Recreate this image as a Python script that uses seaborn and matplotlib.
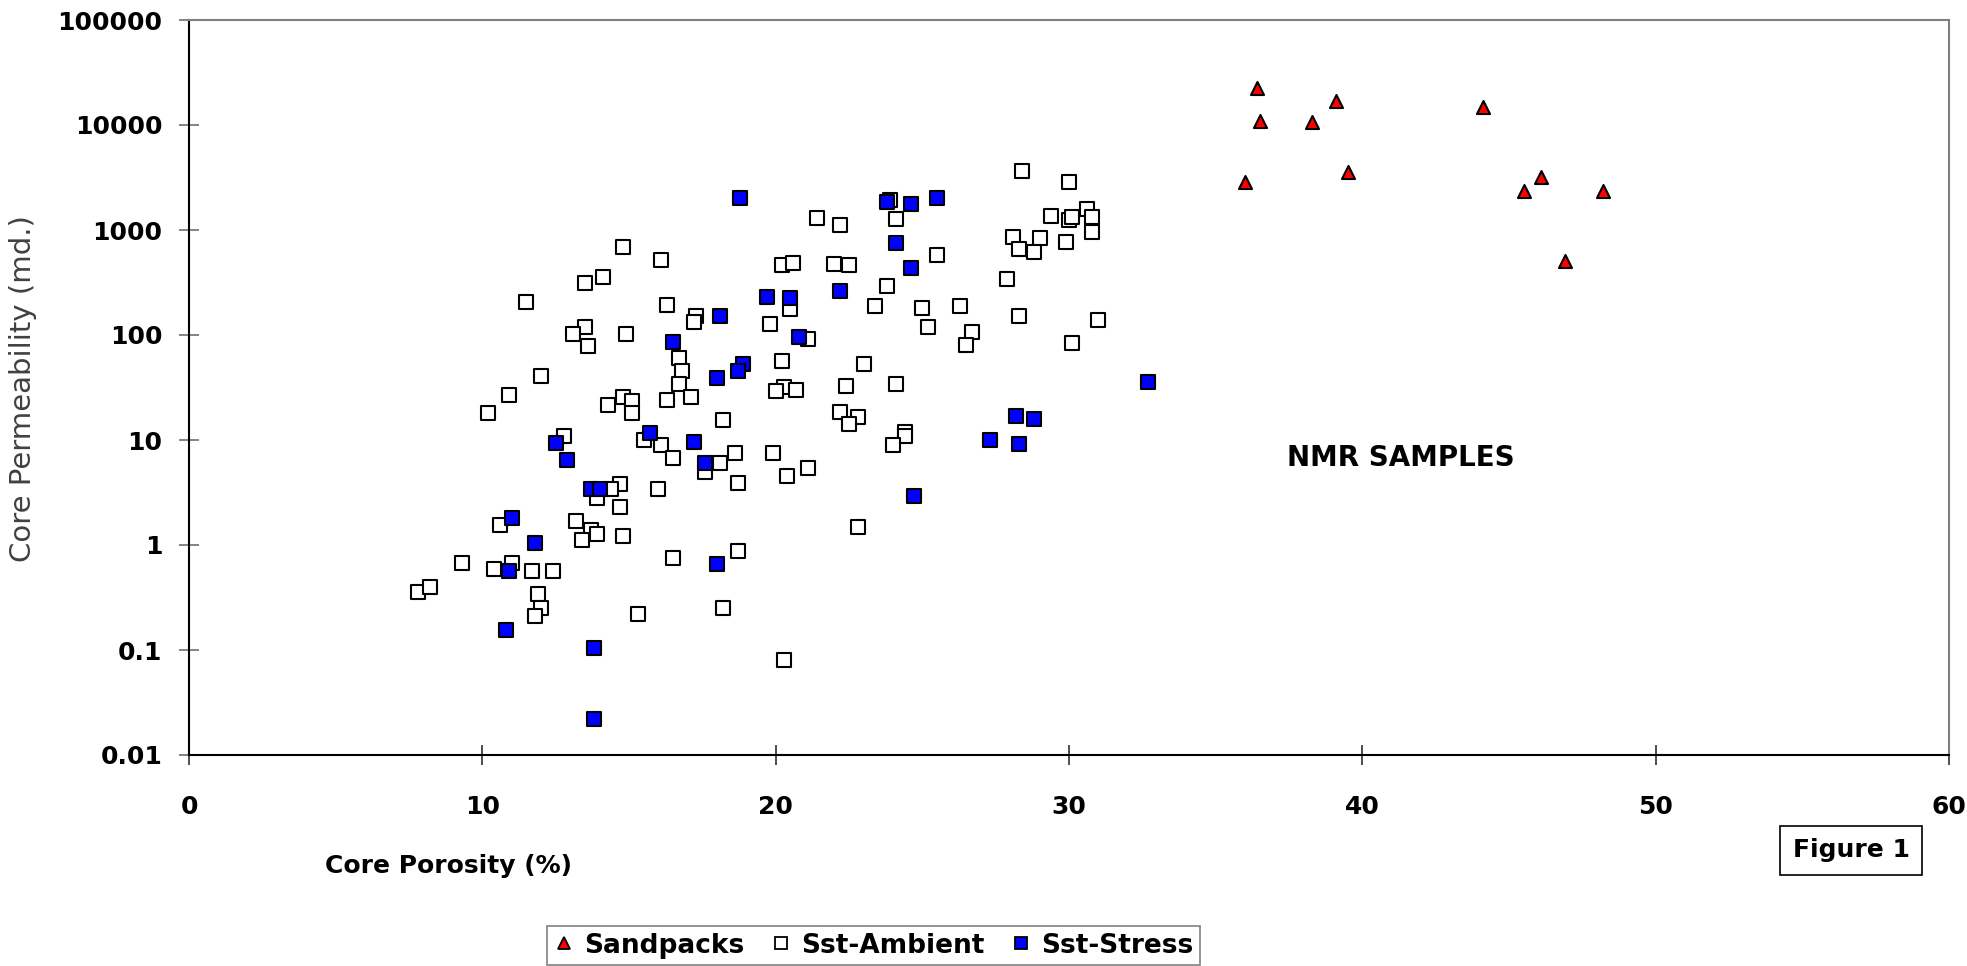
import matplotlib
matplotlib.use("Agg")
import matplotlib.pyplot as plt
import seaborn as sns
from matplotlib.lines import Line2D
from matplotlib.ticker import NullLocator

# ---------------- data ----------------
sand_x = [36.4, 39.1, 36.5, 38.3, 44.1, 36.0, 39.5, 45.5, 46.1, 48.2, 46.9]
sand_y = [22600, 17000, 11000, 10600, 15000, 2870, 3570, 2370, 3180, 2330, 507]

amb_x = [14.8, 16.1, 14.1, 13.5, 11.5, 16.3, 17.3, 17.2, 20.2, 20.6, 19.8, 20.5,
         13.5, 13.1, 13.6, 14.9, 16.7, 16.8, 16.7, 20.2, 20.3, 20.0, 20.7, 12.0,
         10.9, 10.2, 14.8, 15.1, 14.3, 15.1, 16.3, 17.1, 18.2, 12.8, 15.5, 16.1,
         16.5, 18.6, 19.9, 18.1, 17.6, 20.4, 18.7, 16.0, 14.7, 14.4, 13.9, 14.7,
         10.6, 13.2, 13.7, 13.9, 13.4, 14.8, 9.3, 10.4, 11.0, 11.7, 12.4, 7.8,
         8.2, 11.9, 12.0, 11.8, 15.3, 16.5, 18.7, 18.2, 20.3,
         28.4, 30.0, 23.9, 21.4, 22.2, 24.1, 25.5, 29.4, 30.0, 30.1, 30.6, 30.8,
         30.8, 28.1, 29.0, 28.3, 28.8, 29.9, 27.9, 22.0, 22.5, 23.8, 23.4, 25.0,
         26.3, 25.2, 26.7, 26.5, 28.3, 31.0, 30.1, 21.1, 23.0, 22.4, 24.1, 22.2,
         22.8, 22.5, 24.4, 24.4, 24.0, 21.1, 22.8]
amb_y = [684, 518, 354, 311, 206, 193, 153, 132, 464, 489, 127, 176,
         118, 102, 79, 103, 60, 45, 34, 56, 32, 29.5, 30, 41,
         27, 18, 25.5, 23.7, 21.5, 18, 24, 25.5, 15.5, 11, 9.9, 9,
         6.8, 7.6, 7.6, 6.1, 5.0, 4.5, 3.9, 3.4, 3.8, 3.4, 2.8, 2.3,
         1.55, 1.7, 1.4, 1.26, 1.12, 1.22, 0.68, 0.59, 0.67, 0.57, 0.57, 0.36,
         0.40, 0.34, 0.25, 0.21, 0.22, 0.75, 0.88, 0.25, 0.08,
         3650, 2880, 1950, 1300, 1120, 1260, 575, 1360, 1245, 1340, 1600, 1340,
         950, 865, 845, 664, 617, 764, 339, 471, 464, 293, 189, 181,
         189, 118, 106, 80, 153, 138, 83, 91, 53, 32.7, 34, 18.4,
         16.7, 14.2, 12, 10.8, 9, 5.4, 1.5]

str_x = [18.8, 19.7, 20.5, 18.1, 20.8, 16.5, 18.9, 18.7, 18.0, 15.7, 12.5, 17.2,
         12.9, 17.6, 13.7, 14.0, 11.0, 11.8, 10.9, 10.8, 13.8, 13.8, 18.0,
         23.8, 24.6, 25.5, 24.1, 24.6, 22.2, 32.7, 28.2, 28.8, 27.3, 28.3, 24.7]
str_y = [2000, 232, 224, 151, 96, 85, 53, 45, 39, 11.6, 9.3, 9.6,
         6.4, 6.0, 3.4, 3.4, 1.8, 1.05, 0.57, 0.155, 0.104, 0.022, 0.66,
         1850, 1760, 2000, 757, 437, 262, 36, 17, 16, 9.9, 9.2, 2.9]

x_ticks = [0, 10, 20, 30, 40, 50, 60]
y_ticks = [0.01, 0.1, 1, 10, 100, 1000, 10000, 100000]
y_tick_labels = ["0.01", "0.1", "1", "10", "100", "1000", "10000", "100000"]
series_names = ["Sandpacks", "Sst-Ambient", "Sst-Stress"]

# ---------------- figure ----------------
sns.set_theme(style="white")
plt.rcParams["font.family"] = ["DejaVu Sans"]
plt.rcParams["text.color"] = "black"
plt.rcParams["xtick.color"] = "black"
plt.rcParams["ytick.color"] = "black"

W, H = 1967, 966
fig = plt.figure(figsize=(W / 100, H / 100), dpi=100)
ax = fig.add_axes([189 / W, 1 - 755 / H, (1949 - 189) / W, (755 - 20) / H])

sq_s = 88
sns.scatterplot(x=sand_x, y=sand_y, marker="^", s=sq_s, color="#FF0000",
                edgecolor="black", linewidth=1.5, ax=ax, zorder=3)
sns.scatterplot(x=amb_x, y=amb_y, marker="s", s=sq_s, color="white",
                edgecolor="black", linewidth=1.5, ax=ax, zorder=4)
sns.scatterplot(x=str_x, y=str_y, marker="s", s=sq_s, color="#0000FF",
                edgecolor="black", linewidth=1.5, ax=ax, zorder=5)

ax.set_yscale("log")
ax.set_xlim(0, 60)
ax.set_ylim(0.01, 100000)
ax.set_xticks(x_ticks, labels=[str(v) for v in x_ticks], fontsize=18,
              fontweight="bold", color="black")
ax.set_yticks(y_ticks, labels=y_tick_labels, fontsize=18, fontweight="bold",
              color="black")
ax.yaxis.set_minor_locator(NullLocator())
ax.xaxis.set_minor_locator(NullLocator())
ax.tick_params(axis="y", left=True, direction="inout", length=14, width=1.2,
               color="#707070", labelcolor="black", pad=12)
ax.tick_params(axis="x", bottom=True, direction="inout", length=14, width=1.2,
               color="#303030", labelcolor="black", pad=22)
ax.grid(False)
for side in ["left", "bottom"]:
    ax.spines[side].set_color("black")
    ax.spines[side].set_linewidth(1.5)
for side in ["top", "right"]:
    ax.spines[side].set_color("#808080")
    ax.spines[side].set_linewidth(1.5)
ax.set_xlabel("")
ax.set_ylabel("")

fig.text(448 / W, 1 - 866 / H, "Core Porosity (%)", ha="center", va="center",
         fontsize=18, fontweight="bold", color="black")
fig.text(23 / W, 1 - 389 / H, "Core Permeability (md.)", ha="center", va="center",
         rotation=90, fontsize=21, color="#404040")
fig.text(1401 / W, 1 - 458 / H, "NMR SAMPLES", ha="center", va="center",
         fontsize=20, fontweight="bold", color="black")
fig.text(1851 / W, 1 - 850 / H, "Figure 1", ha="center", va="center",
         fontsize=18, fontweight="bold", color="black",
         bbox=dict(boxstyle="square,pad=0.5", facecolor="white",
                   edgecolor="black", linewidth=1.2))

handles = [
    Line2D([], [], linestyle="none", marker="^", markersize=8,
           markerfacecolor="#FF0000", markeredgecolor="black", markeredgewidth=1.3),
    Line2D([], [], linestyle="none", marker="s", markersize=8,
           markerfacecolor="white", markeredgecolor="black", markeredgewidth=1.3),
    Line2D([], [], linestyle="none", marker="s", markersize=8,
           markerfacecolor="#0000FF", markeredgecolor="black", markeredgewidth=1.3),
]
leg = fig.legend(handles, series_names, loc="upper left",
                 bbox_to_anchor=(547 / W, 1 - 926 / H), bbox_transform=fig.transFigure,
                 ncol=3, frameon=True, fancybox=False, borderaxespad=0,
                 prop={"weight": "bold", "size": 19}, handlelength=0.8,
                 handletextpad=0.35, columnspacing=1.0, borderpad=0.25)
leg.get_frame().set_edgecolor("#606060")
leg.get_frame().set_linewidth(1.2)
for t in leg.get_texts():
    t.set_color("black")

fig.savefig("out.png", dpi=100)
